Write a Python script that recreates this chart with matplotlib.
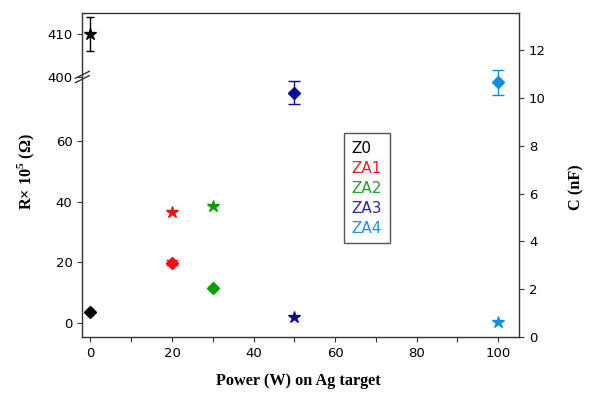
import matplotlib.pyplot as plt
from matplotlib.lines import Line2D
from matplotlib.ticker import MultipleLocator

plt.rcParams['font.family'] = ['DejaVu Sans']
plt.rcParams['mathtext.fontset'] = 'custom'
plt.rcParams['mathtext.rm'] = 'Liberation Serif:bold'
plt.rcParams['mathtext.bf'] = 'Liberation Serif:bold'

# samples, Ag target power, resistance (x10^5 ohm) and capacitance (nF)
samples = ['Z0', 'ZA1', 'ZA2', 'ZA3', 'ZA4']
power = [0, 20, 30, 50, 100]
R = [410, 36.7, 38.6, 2.0, 0.1]
R_err = [3.9, 0, 0, 0, 0]
C = [1.04, 3.12, 2.05, 10.22, 10.64]
C_err = [0, 0.12, 0, 0.5, 0.52]
colors = ['black', '#ee1111', '#00a000', '#0a0a9a', '#0a90dd']
text_colors = ['black', '#e8202a', '#20a028', '#2828a0', '#1e90e0']

W, H = 594, 393
fig = plt.figure(figsize=(W / 100, H / 100), dpi=100)


def box(l, t, r, b):
    return [l / W, 1 - b / H, (r - l) / W, (b - t) / H]


L, T, Rt, B, brk = 82.3, 13, 519.3, 337.3, 77
ax_top = fig.add_axes(box(L, T, Rt, brk))
ax_bot = fig.add_axes(box(L, brk, Rt, B))
ax_c = fig.add_axes(box(L, T, Rt, B))
ax_c.patch.set_alpha(0)

for ax in (ax_top, ax_bot, ax_c):
    ax.set_xlim(-2.0, 105.2)
    ax.tick_params(direction='out', length=3.5, width=0.8, labelsize=9.5, color='#333333')
    for s in ax.spines.values():
        s.set_color('#333333')
        s.set_linewidth(1.0)

ax_top.set_ylim(400, 414.8)
ax_bot.set_ylim(-4.8, 81.1)
ax_c.set_ylim(0, 13.54)

ax_top.spines[['top', 'right', 'bottom']].set_visible(False)
ax_top.set_xticks([])
ax_top.set_yticks([400, 410])
ax_bot.spines[['top', 'right']].set_visible(False)
ax_bot.set_yticks([0, 20, 40, 60])
ax_bot.xaxis.set_major_locator(MultipleLocator(20))
ax_bot.xaxis.set_minor_locator(MultipleLocator(10))
ax_bot.tick_params(which='minor', direction='out', length=3.5, width=0.8, color='#333333')
ax_c.spines[['left', 'bottom']].set_visible(False)
ax_c.set_xticks([])
ax_c.yaxis.tick_right()
ax_c.set_yticks(range(0, 13, 2))

# resistance as stars, capacitance as diamonds
for i in range(len(samples)):
    target = ax_top if R[i] > 100 else ax_bot
    target.errorbar(power[i], R[i], yerr=R_err[i] or None, fmt='*', ms=9,
                    color=colors[i], ecolor=colors[i], elinewidth=1, capsize=3,
                    clip_on=False)
    ax_c.errorbar(power[i], C[i], yerr=C_err[i] or None, fmt='D', ms=6.5,
                  color=colors[i], ecolor=colors[i], elinewidth=1, capsize=4,
                  clip_on=False)

# axis break marks on the left spine
for dy in (-2.2, 2.2):
    y0 = 1 - (brk + dy) / H
    fig.add_artist(Line2D([(L - 7) / W, (L + 7) / W], [y0 - 3.5 / H, y0 + 3.5 / H],
                          color='#333333', lw=1.0))

serif = dict(family='Liberation Serif', weight='bold', fontsize=11.7)
fig.text(298 / W, 1 - 381 / H, 'Power (W) on Ag target', ha='center', va='center', **serif)
fig.text(26 / W, 1 - 172 / H, 'R× 10$^5$ (Ω)', rotation=90, ha='center', va='center', **serif)
fig.text(576 / W, 1 - 187 / H, 'C (nF)', rotation=90, ha='center', va='center', **serif)

handles = [Line2D([], [], linestyle='none') for _ in samples]
leg = ax_c.legend(handles, samples, loc='upper left',
                  bbox_to_anchor=(344 / W, 1 - 133 / H), bbox_transform=fig.transFigure,
                  borderaxespad=0, handlelength=0, handletextpad=0,
                  labelcolor=text_colors, fontsize=11, fancybox=False, framealpha=1,
                  borderpad=0.5, labelspacing=0.33, edgecolor='#555555')
leg.get_frame().set_linewidth(1.0)

fig.savefig('out.png', dpi=100)
